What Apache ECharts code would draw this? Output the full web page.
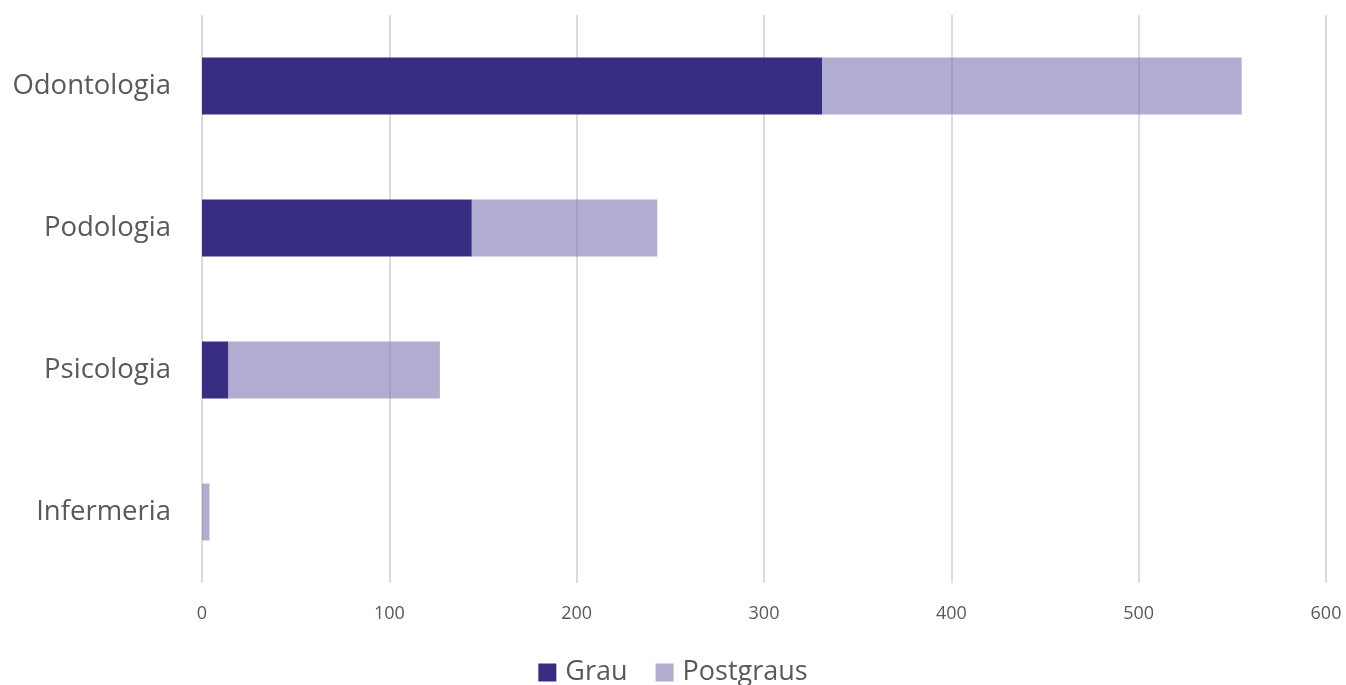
<!DOCTYPE html>
<html>
<head>
<meta charset="utf-8">
<script src="https://cdn.jsdelivr.net/npm/echarts@6/dist/echarts.min.js"></script>
<style>html,body{margin:0;padding:0;background:#fff;}#c{width:1346px;height:685px;}</style>
</head>
<body>
<div id="c"></div>
<script>
const categories = ['Infermeria', 'Psicologia', 'Podologia', 'Odontologia'];
const grau = [0, 14, 144, 331];
const postgraus = [4, 113, 99, 224];
const xTicks = [0, 100, 200, 300, 400, 500, 600];

const chart = echarts.init(document.getElementById('c'));
const font = '"Open Sans", "Liberation Sans", sans-serif';
chart.setOption({
  animation: false,
  grid: { left: 202, right: 20, top: 15, bottom: 102 },
  legend: {
    bottom: -6, left: 'center',
    itemWidth: 18, itemHeight: 18, itemGap: 28,
    icon: 'rect',
    textStyle: { fontFamily: font, fontSize: 27, color: '#595959', padding: [0, 0, 0, 4] },
    data: ['Grau', 'Postgraus']
  },
  xAxis: {
    type: 'value', min: xTicks[0], max: xTicks[xTicks.length - 1], interval: 100,
    axisLine: { show: false }, axisTick: { show: false },
    axisLabel: { fontFamily: font, fontSize: 18, color: '#595959', margin: 22 },
    splitLine: { lineStyle: { color: '#dcdcdc', width: 2 } }
  },
  yAxis: {
    type: 'category', data: categories,
    axisLine: { show: false }, axisTick: { show: false },
    axisLabel: { fontFamily: font, fontSize: 27.5, color: '#595959', margin: 31 }
  },
  series: [
    { name: 'Grau', type: 'bar', stack: 't', data: grau, barWidth: '40%',
      itemStyle: { color: '#372E83' } },
    { name: 'Postgraus', type: 'bar', stack: 't', data: postgraus, barWidth: '40%',
      itemStyle: { color: 'rgba(123,118,177,0.6)' } }
  ]
});
</script>
</body>
</html>
